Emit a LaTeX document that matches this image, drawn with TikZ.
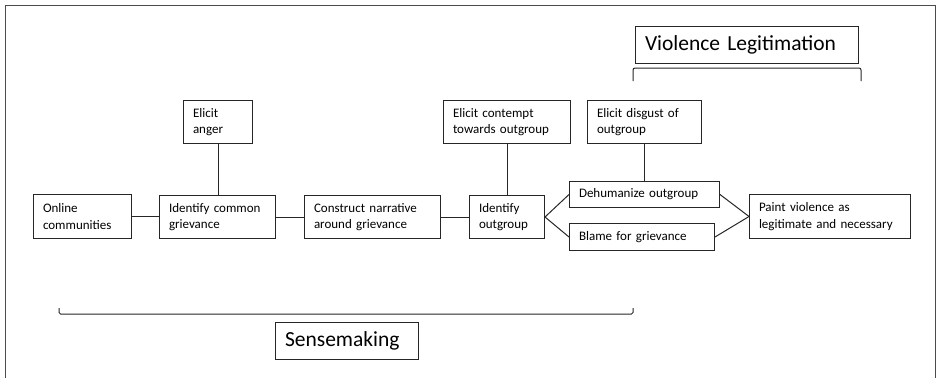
\documentclass[tikz,border=0pt]{standalone}
\usepackage{fontspec}
\setmainfont{Carlito}
\begin{document}
\begin{tikzpicture}[x=1pt,y=-1pt,
  ln/.style={line width=1pt, draw=black!85},
  box/.style={ln, rectangle, inner xsep=9.5pt, inner ysep=0pt, align=left, anchor=north west,
    font=\fontsize{13}{16.5}\selectfont},
  big/.style={box, font=\fontsize{21.5}{24}\selectfont},
  frame/.style={line width=1pt, draw=black!70}
]
\useasboundingbox (0,0) rectangle (937,378);
\draw[frame] (5,378) -- (5,5) -- (935,5) -- (935,378);

\node[box, minimum width=98, minimum height=44, text width=79] (oc) at (33,194) {Online\\communities};
\node[box, minimum width=116, minimum height=43, text width=97] (icg) at (159,195) {Identify common\\grievance};
\node[box, minimum width=69, minimum height=43, text width=50] (ea) at (183,100) {Elicit\\anger};
\node[box, minimum width=136, minimum height=43, text width=117] (cn) at (304,195) {Construct narrative\\around grievance};
\node[box, minimum width=127, minimum height=43, text width=108] (ec) at (443,100) {Elicit contempt\\towards outgroup};
\node[box, minimum width=75, minimum height=43, text width=56] (io) at (469,195) {Identify\\outgroup};
\node[box, minimum width=114, minimum height=43, text width=95] (ed) at (587,100) {Elicit disgust of\\outgroup};
\node[box, minimum width=150, minimum height=26, text width=131] (dh) at (569,181) {Dehumanize outgroup};
\node[box, minimum width=145, minimum height=27, text width=126] (bl) at (569,223) {Blame for grievance};
\node[box, minimum width=161, minimum height=44, text width=142] (pv) at (749,194) {Paint violence as\\legitimate and necessary};
\node[big, minimum width=223, minimum height=37, text width=204] (vl) at (635,26) {Violence Legitimation};
\node[big, minimum width=143, minimum height=37, text width=124] (sm) at (275,322) {Sensemaking};

\draw[ln] (oc.east) -- (oc.east -| icg.west);
\draw[ln] (icg.east) -- (icg.east -| cn.west);
\draw[ln] (cn.east) -- (cn.east -| io.west);
\draw[ln] (ea.south) -- (ea.south |- icg.north);
\draw[ln] (ec.south) -- (ec.south |- io.north);
\draw[ln] (ed.south) -- (ed.south |- dh.north);
\draw[ln] (io.east) -- (dh.west);
\draw[ln] (io.east) -- (bl.west);
\draw[ln] (dh.east) -- (pv.west);
\draw[ln] (bl.east) -- (pv.west);

\coordinate (sa) at (59,308);
\coordinate (sb) at (633,308);
\draw[ln, rounded corners=1.5] (sa) -- ([yshift=-6]sa) -- ([yshift=-6]sb) -- (sb);
\coordinate (va) at (633,81);
\coordinate (vb) at (861,81);
\draw[ln, rounded corners=2] (va) -- ([yshift=13]va) -- ([yshift=13]vb) -- (vb);
\end{tikzpicture}
\end{document}
